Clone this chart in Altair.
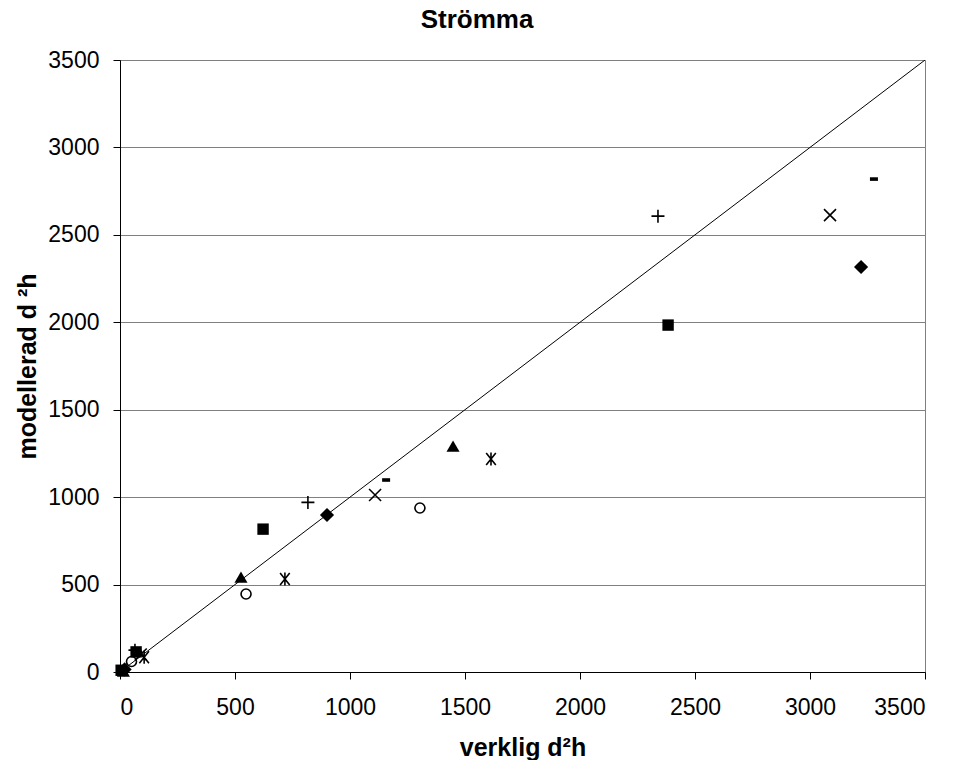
import altair as alt
import pandas as pd

# Measured (verklig) vs modelled (modellerad) d²h per tree, one list pair per marker series
diamond_x = [3222, 900, 20]
diamond_y = [2316, 898, 15]
square_x = [2383, 622, 70, 5]
square_y = [1984, 817, 115, 10]
triangle_x = [1448, 526, 15]
triangle_y = [1292, 543, 5]
xmark_x = [3087, 1109, 90]
xmark_y = [2613, 1012, 100]
star_x = [1613, 717, 105]
star_y = [1218, 532, 85]
circle_x = [1304, 548, 50]
circle_y = [938, 446, 60]
plus_x = [2339, 817, 65]
plus_y = [2607, 970, 125]
dash_x = [3278, 1157, 80]
dash_y = [2819, 1098, 110]

# 1:1 reference line
line_x = [0, 3500]
line_y = [0, 3500]

tick_values = [0, 500, 1000, 1500, 2000, 2500, 3000, 3500]
chart_title = ["Strömma"]

FONT = "Liberation Sans"
scale_x = alt.Scale(domain=[0, 3500], nice=False)
scale_y = alt.Scale(domain=[0, 3500], nice=False)

X_PATH = "M-1,-1L1,1M-1,1L1,-1"
PLUS_PATH = "M-1,0L1,0M0,-1L0,1"
STAR_PATH = "M-0.8,-1L0.8,1M-0.8,1L0.8,-1M0,-1.1L0,1.1"
DASH_PATH = "M-1,-0.45L1,-0.45L1,0.45L-1,0.45Z"

series = [
    (diamond_x, diamond_y, "diamond", True, 200),
    (square_x, square_y, "square", True, 130),
    (triangle_x, triangle_y, "triangle-up", True, 170),
    (xmark_x, xmark_y, X_PATH, False, 144),
    (star_x, star_y, STAR_PATH, False, 144),
    (circle_x, circle_y, "circle", False, 100),
    (plus_x, plus_y, PLUS_PATH, False, 169),
    (dash_x, dash_y, DASH_PATH, True, 64),
]

x_axis = alt.Axis(
    values=tick_values,
    format="d",
    grid=False,
    tickSize=7,
    labelPadding=17,
    labelFontSize=23,
    title="verklig d²h",
    titleFontSize=25,
    titleFontWeight="bold",
    titleY=83,
    titleBaseline="alphabetic",
)
y_axis = alt.Axis(
    values=tick_values,
    format="d",
    grid=True,
    gridColor="#808080",
    tickSize=7,
    labelPadding=14,
    labelFontSize=23,
    title="modellerad d ²h",
    titleFontSize=25,
    titleFontWeight="bold",
    titleX=-85,
    titleY=306,
    titleAngle=270,
    titleAlign="center",
    titleBaseline="alphabetic",
)

line_df = pd.DataFrame({"x": line_x, "y": line_y})
base_line = alt.Chart(line_df).mark_line(color="black", strokeWidth=1, clip=True).encode(
    x=alt.X("x:Q", scale=scale_x, axis=x_axis),
    y=alt.Y("y:Q", scale=scale_y, axis=y_axis),
)

layers = [base_line]
for xs, ys, shape, filled, size in series:
    df = pd.DataFrame({"x": xs, "y": ys})
    if filled:
        pt = alt.Chart(df).mark_point(shape=shape, filled=True, color="black",
                                      size=size, opacity=1, strokeWidth=0)
    else:
        pt = alt.Chart(df).mark_point(shape=shape, filled=False, color="black",
                                      size=size, opacity=1, strokeWidth=1.6)
    layers.append(
        pt.encode(
            x=alt.X("x:Q", scale=scale_x),
            y=alt.Y("y:Q", scale=scale_y),
        )
    )

# Chart title, centred over the whole chart area
title_layer = alt.Chart(pd.DataFrame({"t": chart_title})).mark_text(
    font=FONT, fontSize=26, fontWeight="bold", color="black",
    align="center", baseline="alphabetic",
).encode(text="t:N", x=alt.value(357), y=alt.value(-32))
layers.append(title_layer)

chart = (
    alt.layer(*layers)
    .properties(
        width=805,
        height=612,
        background="white",
        autosize=alt.AutoSizeParams(type="none"),
        padding={"left": 120, "top": 60, "right": 30, "bottom": 88},
    )
    .configure_view(stroke="#808080", strokeWidth=1)
    .configure_axis(
        labelFont=FONT,
        titleFont=FONT,
        labelColor="black",
        titleColor="black",
        domainColor="black",
        tickColor="black",
        domainWidth=1,
    )
)

chart.save("out.html", embed_options={"renderer": "svg", "actions": False})
